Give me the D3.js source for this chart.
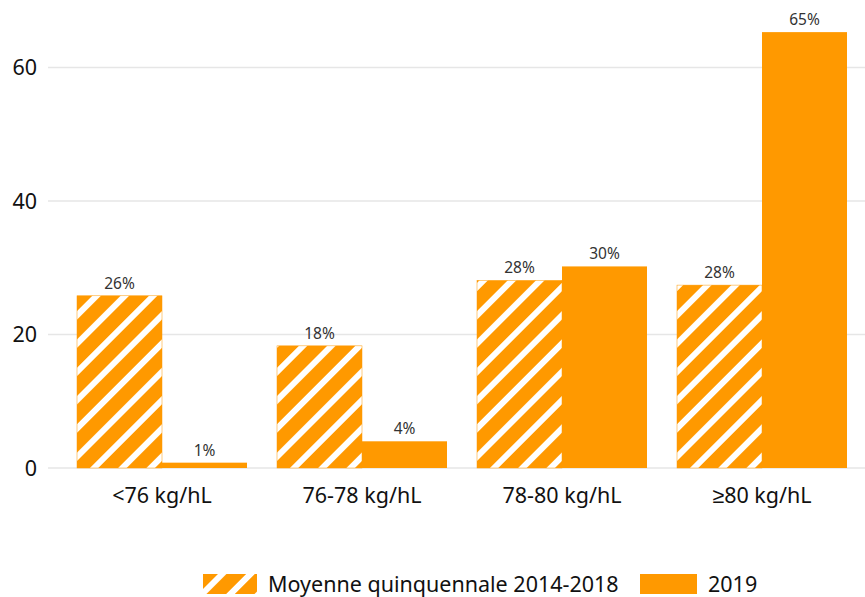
<!DOCTYPE html>
<html>
<head>
<meta charset="utf-8">
<script src="https://cdn.jsdelivr.net/npm/d3@7"></script>
<style>
  body { margin: 0; background: #fff; }
  svg { font-family: "Noto Sans", sans-serif; }
</style>
</head>
<body>
<svg id="chart" width="865" height="597"></svg>
<script>
var categories = ['<76 kg/hL', '76-78 kg/hL', '78-80 kg/hL', '≥80 kg/hL'];
var seriesNames = ['Moyenne quinquennale 2014-2018', '2019'];
var avgValues = [25.8, 18.3, 28.1, 27.4];
var y2019Values = [0.8, 4.0, 30.2, 65.3];
var avgLabels = ['26%', '18%', '28%', '28%'];
var y2019Labels = ['1%', '4%', '30%', '65%'];
var yTicks = [0, 20, 40, 60];

var orange = '#ff9900';
var svg = d3.select('#chart');

// hatch pattern
var defs = svg.append('defs');
var pat = defs.append('pattern')
	.attr('id', 'hatch')
	.attr('patternUnits', 'userSpaceOnUse')
	.attr('width', 20)
	.attr('height', 20)
	.attr('patternTransform', 'rotate(45)');
pat.append('rect').attr('width', 20).attr('height', 20).attr('fill', orange);
pat.append('rect').attr('x', 0).attr('width', 6).attr('height', 20).attr('fill', '#fff');

var x = d3.scaleBand().domain(categories).range([62, 862]).paddingInner(0.15).paddingOuter(0.075);
var xs = d3.scaleBand().domain([0, 1]).range([0, x.bandwidth()]);
var y = d3.scaleLinear().domain([0, 60]).range([468, 67.5]);

// grid + y labels
var grid = svg.append('g');
grid.selectAll('line').data(yTicks).enter().append('line')
	.attr('x1', 48).attr('x2', 865)
	.attr('y1', function(d) { return y(d); })
	.attr('y2', function(d) { return y(d); })
	.attr('stroke', '#e6e6e6').attr('stroke-width', 1.5);
grid.selectAll('text').data(yTicks).enter().append('text')
	.attr('x', 37)
	.attr('y', function(d) { return y(d); })
	.attr('dy', '0.36em')
	.attr('text-anchor', 'end')
	.attr('font-size', 21.5)
	.attr('fill', '#111')
	.text(function(d) { return d; });

var groups = svg.selectAll('g.cat').data(categories).enter().append('g')
	.attr('class', 'cat')
	.attr('transform', function(d) { return 'translate(' + x(d) + ',0)'; });

groups.append('rect')
	.attr('x', xs(0))
	.attr('width', xs.bandwidth())
	.attr('y', function(d, i) { return y(avgValues[i]); })
	.attr('height', function(d, i) { return y(0) - y(avgValues[i]); })
	.attr('fill', 'url(#hatch)')
	.attr('stroke', orange).attr('stroke-width', 0.5);

groups.append('rect')
	.attr('x', xs(1))
	.attr('width', xs.bandwidth())
	.attr('y', function(d, i) { return y(y2019Values[i]); })
	.attr('height', function(d, i) { return y(0) - y(y2019Values[i]); })
	.attr('fill', orange);

groups.append('text')
	.attr('x', xs(0) + xs.bandwidth() / 2)
	.attr('y', function(d, i) { return y(avgValues[i]) - 7; })
	.attr('text-anchor', 'middle').attr('font-size', 15.5).attr('fill', '#333')
	.text(function(d, i) { return avgLabels[i]; });

groups.append('text')
	.attr('x', xs(1) + xs.bandwidth() / 2)
	.attr('y', function(d, i) { return y(y2019Values[i]) - 7; })
	.attr('text-anchor', 'middle').attr('font-size', 15.5).attr('fill', '#333')
	.text(function(d, i) { return y2019Labels[i]; });

groups.append('text')
	.attr('x', x.bandwidth() / 2)
	.attr('y', 503)
	.attr('text-anchor', 'middle').attr('font-size', 21.5).attr('fill', '#111')
	.text(function(d) { return d; });

// legend
var legend = svg.append('g');
legend.append('rect').attr('x', 203).attr('y', 574).attr('width', 54).attr('height', 20).attr('fill', 'url(#hatch)');
legend.append('text').attr('x', 268).attr('y', 592).attr('font-size', 21.5).attr('fill', '#111').text(seriesNames[0]);
legend.append('rect').attr('x', 640).attr('y', 574).attr('width', 57).attr('height', 20).attr('fill', orange);
legend.append('text').attr('x', 708).attr('y', 592).attr('font-size', 21.5).attr('fill', '#111').text(seriesNames[1]);
</script>
</body>
</html>
